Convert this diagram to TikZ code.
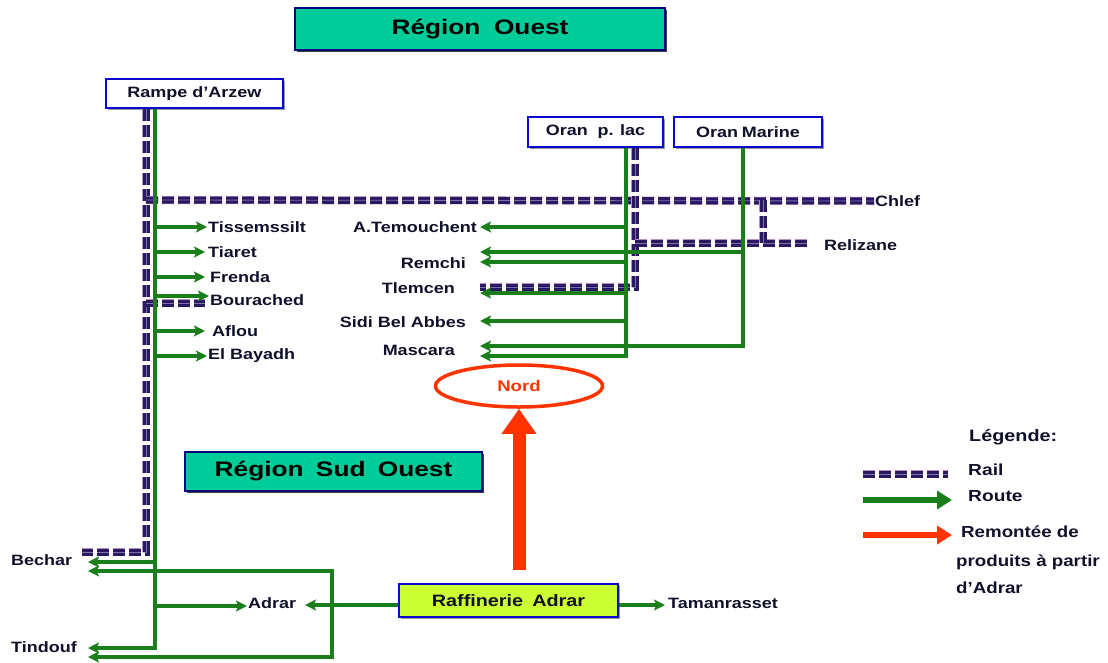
\documentclass[tikz,border=0pt]{standalone}
\usepackage{fontspec}
\setmainfont{Liberation Sans}
\usepackage{graphicx}
\usetikzlibrary{arrows.meta,shapes.geometric,shadows}
\definecolor{rte}{HTML}{1A7F1A}
\definecolor{railc}{HTML}{2A1860}
\definecolor{railh}{HTML}{B890C0}
\definecolor{railm}{HTML}{8070A8}
\definecolor{tealc}{HTML}{00CC99}
\definecolor{limec}{HTML}{CCFF33}
\definecolor{redo}{HTML}{FF3300}
\definecolor{bord}{HTML}{0A0ACC}
\definecolor{txt}{HTML}{10102A}
\newcommand{\sx}[2][1.2]{\scalebox{#1}[1]{#2}}
\tikzset{
  lbl/.style={font=\bfseries\fontsize{15}{17}\selectfont, text=txt, inner sep=1pt},
  leg/.style={font=\bfseries\fontsize{16}{18}\selectfont, text=txt, inner sep=1pt, anchor=west},
  route/.style={draw=rte, line width=3.4pt, line join=miter},
  routearr/.style={route, -{Stealth[length=11pt,width=11pt,inset=2.5pt]}},
  rail/.style={draw=railc, line width=7pt, dash pattern=on 12pt off 4pt,
    preaction={draw=railh, line width=8pt, dash pattern=on 12pt off 4pt},
    postaction={draw=railm, line width=0.8pt, dash pattern=on 12pt off 4pt}},
  titlebox/.style={draw=bord!60!black, line width=1.5pt, fill=tealc, inner sep=0pt,
    drop shadow={shadow xshift=2pt, shadow yshift=-2pt, fill=black!75, opacity=1},
    font=\bfseries\fontsize{21}{24}\selectfont, text=black},
  srcbox/.style={draw=bord, line width=2.5pt, fill=white, inner sep=0pt,
    drop shadow={shadow xshift=1.5pt, shadow yshift=-1.5pt, fill=black!40, opacity=1},
    font=\bfseries\fontsize{15}{17}\selectfont, text=txt},
  redarr/.style={draw=redo, line width=13pt, -{Triangle[length=25pt,width=33pt]}},
}
\begin{document}
\begin{tikzpicture}[x=1pt,y=-1pt]
\useasboundingbox (0,0) rectangle (1108,662);

% ---- boxes
\node[titlebox, minimum width=370pt, minimum height=42pt] (ouest) at (480,29) {\sx[1.25]{Région\hspace{5pt} Ouest}};
\node[titlebox, minimum width=297pt, minimum height=39pt] (sudouest) at (333.5,471.5) {\sx[1.25]{Région\hspace{4pt} Sud\hspace{4pt} Ouest}};
\node[srcbox, minimum width=177pt, minimum height=29pt] (rampe) at (194.5,93.5) {\sx{Rampe d’Arzew}};
\node[srcbox, minimum width=135pt, minimum height=30pt] (oranlac) at (595.5,132) {\sx{Oran\hspace{4pt} p. lac}};
\node[srcbox, minimum width=148pt, minimum height=30pt] (oranmar) at (748,132) {\sx{Oran\hspace{-1pt} Marine}};
\node[srcbox, fill=limec, line width=2pt, minimum width=219pt, minimum height=33pt,
      font=\bfseries\fontsize{16.5}{19}\selectfont] (raff) at (508.5,600.5) {\sx{Raffinerie\hspace{3pt} Adrar}};
\node[ellipse, draw=redo, line width=3.5pt, fill=white, minimum width=167pt, minimum height=42pt,
      inner sep=0pt, font=\bfseries\fontsize{15.5}{17}\selectfont, text=redo] (nord) at (519,386) {\sx{Nord}};

% ---- labels west side
\node[lbl, anchor=west] (tiss) at (207,227) {\sx{Tissemssilt}};
\node[lbl, anchor=west] (tiaret) at (207,252) {\sx{Tiaret}};
\node[lbl, anchor=west] (frenda) at (209,277) {\sx{Frenda}};
\node[lbl, anchor=west] (bour) at (209,300) {\sx{Bourached}};
\node[lbl, anchor=west] (aflou) at (211,331) {\sx{Aflou}};
\node[lbl, anchor=west] (bayadh) at (207,356) {\sx{El Bayadh}};
\node[lbl, anchor=west] (bechar) at (10,560) {\sx{Bechar}};
\node[lbl, anchor=west] (tindouf) at (10,647) {\sx{Tindouf}};
\node[lbl, anchor=west] (adrar) at (247,603) {\sx{Adrar}};
\node[lbl, anchor=west] (taman) at (667,603) {\sx{Tamanrasset}};
% ---- labels Oran side
\node[lbl, anchor=east] (atem) at (478,227) {\sx{A.Temouchent}};
\node[lbl, anchor=east] (remchi) at (467,263) {\sx{Remchi}};
\node[lbl, anchor=east] (tlemcen) at (456,288) {\sx{Tlemcen}};
\node[lbl, anchor=east] (sba) at (467,322) {\sx{Sidi Bel Abbes}};
\node[lbl, anchor=east] (mascara) at (456,350) {\sx{Mascara}};
\node[lbl, anchor=west] (chlef) at (874,201) {\sx{Chlef}};
\node[lbl, anchor=west] (reliz) at (823,245) {\sx{Relizane}};

% ---- coordinates
\coordinate (ltip) at (480,0);
\coordinate (wtip) at (88,0);
\coordinate (rj) at (146,200);
\coordinate (becharR) at (82,552);
\coordinate (tlemR) at (480,287);
\coordinate (relR) at (810,243);
\coordinate (bourR) at (205,303);
\coordinate (adrar2) at (305,605);
\coordinate (tamanT) at (665,605);
\coordinate (rs) at (519,570);

% ---- rail
\draw[rail] (rampe.south -| 146,0) -- (146,552) -- (becharR);
\draw[rail] (rj) -- (chlef.west);
\draw[rail] (146,303) -- (bourR);
\draw[rail] (oranlac.south -| 635,0) -- (635,287) -- (tlemR);
\draw[rail] (635,243) -- (relR);
\draw[rail] (763,200) -- (763,243);

% ---- routes from Rampe d'Arzew
\draw[routearr] (rampe.south -| 155,0) -- (155,648) -- (wtip |- 0,648);
\draw[routearr] (155,227) -- (tiss.west);
\draw[routearr] (155,252) -- (tiaret.west -| 205,0);
\draw[routearr] (155,277) -- (frenda.west -| 205,0);
\draw[routearr] (155,296) -- (bour.west |- 0,296);
\draw[routearr] (155,331) -- (aflou.west -| 205,0);
\draw[routearr] (155,356) -- (bayadh.west);
\draw[routearr] (155,562) -- (wtip |- 0,562);
\draw[routearr] (155,606) -- (adrar.west |- 0,606);

% ---- routes from Raffinerie Adrar
\draw[route, {Stealth[length=11pt,width=11pt,inset=2.5pt]}-{Stealth[length=11pt,width=11pt,inset=2.5pt]}]
  (wtip |- 0,571) -- (332,571) -- (332,657) -- (wtip |- 0,657);
\draw[routearr] (raff.west |- adrar2) -- (adrar2);
\draw[routearr] (raff.east |- tamanT) -- (tamanT);

% ---- routes from Oran p. lac
\draw[routearr] (oranlac.south -| 626,0) -- (626,356) -- (ltip |- 0,356);
\draw[routearr] (626,227) -- (ltip |- 0,227);
\draw[routearr] (626,262) -- (ltip |- 0,262);
\draw[routearr] (626,293) -- (ltip |- 0,293);
\draw[routearr] (626,321) -- (ltip |- 0,321);
% ---- routes from Oran Marine
\draw[routearr] (oranmar.south -| 743,0) -- (743,346) -- (ltip |- 0,346);
\draw[routearr] (743,252) -- (ltip |- 0,252);

% ---- red arrow
\draw[redarr] (rs) -- (nord.south);

% ---- legend
\node[leg, font=\bfseries\fontsize{16.5}{19}\selectfont] (legt) at (968,437) {\sx{Légende:}};
\coordinate (lr1) at (863,474); \coordinate (lr2) at (948,474);
\coordinate (lg1) at (863,500); \coordinate (lg2) at (952,500);
\coordinate (lo1) at (863,535); \coordinate (lo2) at (952,535);
\draw[rail] (lr1) -- (lr2);
\draw[draw=rte, line width=6.5pt, -{Triangle[length=15pt,width=18pt]}] (lg1) -- (lg2);
\draw[draw=redo, line width=6.5pt, -{Triangle[length=15pt,width=18pt]}] (lo1) -- (lo2);
\node[leg] (lrail) at (967,470) {\sx{Rail}};
\node[leg] (lroute) at (967,496) {\sx{Route}};
\node[leg] (lrem1) at (960,532) {\sx[1.17]{Remontée de}};
\node[leg] (lrem2) at (955,562) {\sx[1.17]{produits à partir}};
\node[leg] (lrem3) at (955,588) {\sx[1.17]{d’Adrar}};
\end{tikzpicture}
\end{document}
